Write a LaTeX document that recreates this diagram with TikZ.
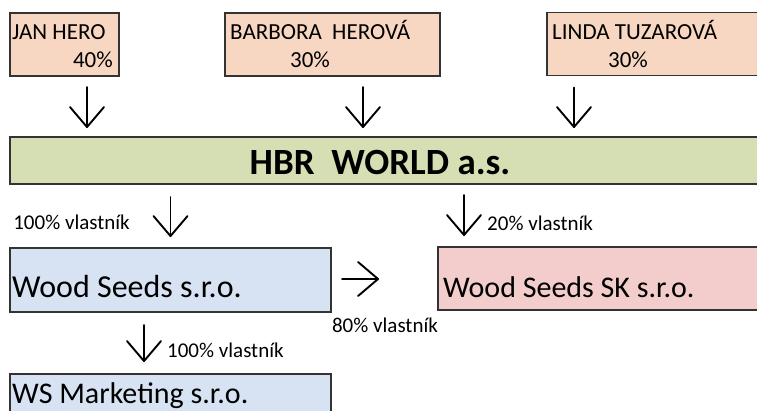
\documentclass[tikz,border=0pt]{standalone}
\usepackage{fontspec}
\setmainfont{Carlito}
\usepackage{tikz}
\usetikzlibrary{arrows.meta}

\definecolor{ownerfill}{HTML}{F7D6C2}
\definecolor{holdfill}{HTML}{D6DFB4}
\definecolor{wsfill}{HTML}{D7E3F3}
\definecolor{skfill}{HTML}{F2CDCB}
\definecolor{boxline}{HTML}{333333}

\begin{document}
\begin{tikzpicture}[x=1pt, y=-1pt,
		box_style/.style={rectangle,draw=boxline,line width=1.2pt,inner sep=0pt,outer sep=0pt},
		owner_style/.style={box_style,fill=ownerfill,minimum height=63pt},
		text_style/.style={inner sep=0pt,font=\fontsize{23}{26}\selectfont},
		firm_text/.style={inner sep=0pt,font=\fontsize{30}{33}\selectfont},
		share_text/.style={inner sep=0pt,font=\fontsize{21}{24}\selectfont},
		edge_style/.style={draw=black,line width=1.9pt,line cap=round,
			-{Straight Barb[length=20pt,width=34pt,line cap=round,line join=round]}}]

		\useasboundingbox (0,0) rectangle (757,410);
		\clip (0,0) rectangle (757,410);

		% owners
		\node[owner_style,minimum width=109pt] (jan) at (64.5,44.5) {};
		\node[owner_style,minimum width=215pt] (barbora) at (332.5,44.5) {};
		\node[owner_style,minimum width=253pt] (linda) at (673.5,44) {};

		\node[text_style,anchor=base west] (jan_name) at (12,39) {JAN HERO};
		\node[text_style,anchor=base east] (jan_share) at (113,67) {40\%};
		\node[text_style,anchor=base west] (barbora_name) at (230,39) {BARBORA\ \ HEROVÁ};
		\node[text_style,anchor=base] (barbora_share) at (310,67) {30\%};
		\node[text_style,anchor=base west] (linda_name) at (552,39) {LINDA TUZAROVÁ};
		\node[text_style,anchor=base] (linda_share) at (628,67) {30\%};

		% holding
		\node[box_style,fill=holdfill,minimum width=790pt,minimum height=47pt] (hbr) at (405,160.5) {};
		\node[inner sep=0pt,anchor=base,font=\fontsize{37}{40}\selectfont\bfseries] (hbr_name) at (380,174) {HBR\ \ WORLD a.s.};

		% companies
		\node[box_style,fill=wsfill,minimum width=321pt,minimum height=64pt] (ws) at (170.5,280) {};
		\node[box_style,fill=skfill,minimum width=362pt,minimum height=63pt] (sk) at (619,278.5) {};
		\node[box_style,fill=wsfill,minimum width=321pt,minimum height=64pt] (wsm) at (170.5,406) {};

		\node[firm_text,font=\fontsize{32}{35}\selectfont,anchor=base west] (ws_name) at (12,297) {Wood Seeds s.r.o.};
		\node[firm_text,anchor=base west] (sk_name) at (443,297) {Wood Seeds SK s.r.o.};
		\node[firm_text,anchor=base west] (wsm_name) at (12,403) {WS Marketing s.r.o.};

		% ownership arrows
		\draw[edge_style,shorten <=11pt,shorten >=9pt] ([xshift=22.5pt]jan.south) -- ([xshift=22.5pt]jan.south |- hbr.north);
		\draw[edge_style,shorten <=11pt,shorten >=9pt] ([xshift=30.5pt]barbora.south) -- ([xshift=30.5pt]barbora.south |- hbr.north);
		\draw[edge_style,shorten <=12pt,shorten >=9pt] ([xshift=27pt]linda.south west) -- ([xshift=27pt]linda.south west |- hbr.north);

		\draw[edge_style,shorten <=13pt,shorten >=11pt] (ws.north |- hbr.south) -- (ws.north);
		\draw[edge_style,shorten <=11pt,shorten >=11pt] ([xshift=26pt]sk.north west |- hbr.south) -- ([xshift=26pt]sk.north west);
		\draw[edge_style,shorten <=11pt,shorten >=59pt] ([yshift=1pt]ws.east) -- ([yshift=1pt]ws.east -| sk.west);
		\draw[edge_style,shorten <=13pt,shorten >=12pt] ([xshift=-26.5pt]ws.south) -- ([xshift=-26.5pt]ws.south |- wsm.north);

		\node[share_text,anchor=base east] (lbl_ws) at (130,229) {100\% vlastník};
		\node[share_text,anchor=base west] (lbl_sk) at (487,230) {20\% vlastník};
		\node[share_text,anchor=base] (lbl_ws_sk) at (385,332) {80\% vlastník};
		\node[share_text,anchor=base west] (lbl_wsm) at (167,357) {100\% vlastník};
\end{tikzpicture}
\end{document}
